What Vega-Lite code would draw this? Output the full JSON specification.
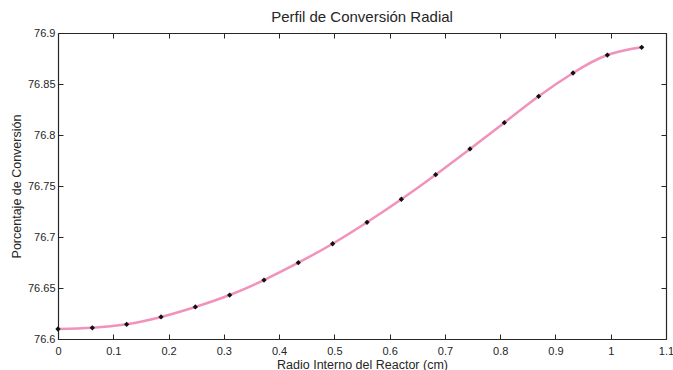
{
  "$schema": "https://vega.github.io/schema/vega-lite/v6.json",
  "width": 608,
  "height": 306,
  "autosize": "none",
  "padding": {"left": 58, "top": 33, "right": 7, "bottom": 31},
  "background": "white",
  "title": {
    "text": "Perfil de Conversión Radial",
    "font": "Liberation Sans",
    "fontSize": 15,
    "fontWeight": "normal",
    "color": "#262626",
    "offset": 2
  },
  "data": {
    "values": [
      {"r": 0.0, "c": 76.6098},
      {"r": 0.0621, "c": 76.611},
      {"r": 0.1242, "c": 76.6144},
      {"r": 0.1864, "c": 76.6216},
      {"r": 0.2485, "c": 76.6314},
      {"r": 0.3106, "c": 76.6431},
      {"r": 0.3727, "c": 76.6578},
      {"r": 0.4348, "c": 76.6748},
      {"r": 0.4969, "c": 76.6934},
      {"r": 0.5591, "c": 76.7144},
      {"r": 0.6212, "c": 76.737},
      {"r": 0.6833, "c": 76.7611},
      {"r": 0.7454, "c": 76.7863},
      {"r": 0.8075, "c": 76.8121},
      {"r": 0.8696, "c": 76.8379},
      {"r": 0.9318, "c": 76.8608},
      {"r": 0.9939, "c": 76.8784},
      {"r": 1.056, "c": 76.886}
    ]
  },
  "layer": [
    {
      "mark": {"type": "line", "interpolate": "natural", "color": "#f291bb", "strokeWidth": 2.5},
      "encoding": {
        "x": {"field": "r", "type": "quantitative", "scale": {"domain": [0, 1.1], "nice": false, "zero": false},
              "axis": {"orient": "bottom", "title": "Radio Interno del Reactor (cm)", "values": [0, 0.1, 0.2, 0.3, 0.4, 0.5, 0.6, 0.7, 0.8, 0.9, 1, 1.1], "labelExpr": "datum.value == 0 ? '0' : format(datum.value, '.1~f')", "labelPadding": 11, "labelFlush": false, "titlePadding": 2, "titleFontSize": 12.5}},
        "y": {"field": "c", "type": "quantitative", "scale": {"domain": [76.6, 76.9], "nice": false, "zero": false},
              "axis": {"orient": "left", "title": "Porcentaje de Conversión", "values": [76.6, 76.65, 76.7, 76.75, 76.8, 76.85, 76.9], "labelExpr": "format(datum.value, '.2~f')", "labelPadding": 8, "labelFlush": false, "titlePadding": 4, "titleFontSize": 12.5}}
      }
    },
    {
      "mark": {"type": "point", "shape": "diamond", "filled": true, "color": "#111111", "size": 28, "opacity": 1},
      "encoding": {
        "x": {"field": "r", "type": "quantitative", "scale": {"domain": [0, 1.1], "nice": false, "zero": false},
              "axis": {"orient": "top", "title": null, "labels": false, "values": [0, 0.1, 0.2, 0.3, 0.4, 0.5, 0.6, 0.7, 0.8, 0.9, 1, 1.1]}},
        "y": {"field": "c", "type": "quantitative", "scale": {"domain": [76.6, 76.9], "nice": false, "zero": false},
              "axis": {"orient": "right", "title": null, "labels": false, "values": [76.6, 76.65, 76.7, 76.75, 76.8, 76.85, 76.9]}}
      }
    }
  ],
  "resolve": {"axis": {"x": "independent", "y": "independent"}},
  "config": {
    "view": {"stroke": null},
    "axis": {
      "grid": false,
      "domainColor": "#262626",
      "domainWidth": 1.2,
      "tickColor": "#262626",
      "tickSize": -5,
      "tickWidth": 1,
      "labelFont": "Liberation Sans",
      "labelFontSize": 11,
      "labelColor": "#262626",
      "titleFont": "Liberation Sans",
      "titleFontWeight": "normal",
      "titleColor": "#262626"
    }
  }
}
